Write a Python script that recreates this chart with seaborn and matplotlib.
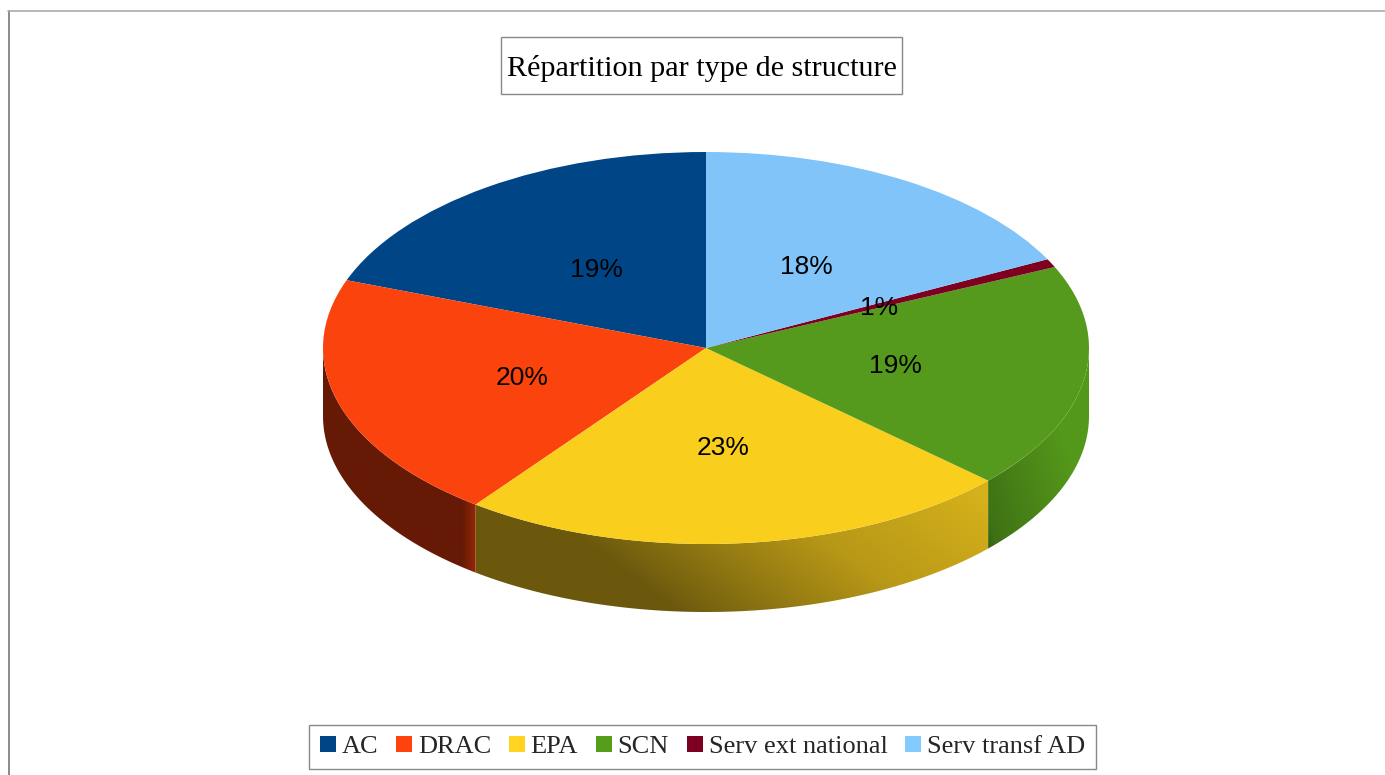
import numpy as np
import matplotlib
matplotlib.use("Agg")
import matplotlib.pyplot as plt
import matplotlib.colors as mcolors
from matplotlib.patches import Patch, Polygon, Rectangle
import seaborn as sns

# donnees
categories = ["AC", "DRAC", "EPA", "SCN", "Serv ext national", "Serv transf AD"]
valeurs = [19.38, 20.35, 23.45, 18.6, 0.7, 17.52]
titre = "Répartition par type de structure"

couleurs_legende = ["#004586", "#ff420e", "#ffd320", "#579d1c", "#7e0021", "#83caff"]
couleurs_pie = ["#004586", "#fb430d", "#f9ce1c", "#559a1c", "#7e0021", "#80c4fa"]

# ombrage du bord : (inclinaison, positions, facteurs)
ombres = {
    "DRAC": (0.0, [323, 462, 475], [0.40, 0.40, 0.58]),
    "EPA": (1.3, [450, 560, 600, 680, 800, 1020], [0.42, 0.42, 0.48, 0.58, 0.72, 0.84]),
    "SCN": (0.3, [975, 990, 1020, 1090], [0.55, 0.72, 0.80, 0.97]),
}

W, H = 1385, 775
cx, cy, rx, ry, prof = 706, 348, 383, 196, 68

sns.set_theme(style="white")
palette = sns.color_palette(couleurs_pie)

fig = plt.figure(figsize=(W / 100, H / 100), dpi=100)
bg = fig.add_axes([0, 0, 1, 1])
bg.set_axis_off()

# cadre exterieur
bg.plot([8.5, 8.5], [H, 11], color="#777777", lw=1.2)
bg.plot([8, W], [11, 11], color="#aaaaaa", lw=1.2)

# bord 3D
debut = 90 + np.cumsum([0] + valeurs[:-1]) * 360 / sum(valeurs)
fin = debut + np.array(valeurs) * 360 / sum(valeurs)
gx, gy = np.meshgrid(np.arange(300, 1101), np.arange(340, 621))
for nom, coul, a1, a2 in zip(categories, couleurs_legende, debut, fin):
    a1, a2 = max(a1, 180), min(a2, 360)
    if a2 <= a1 or nom not in ombres:
        continue
    tilt, pos, fact = ombres[nom]
    t = gx - tilt * (gy - 520)
    f = np.interp(t, pos, fact)[..., None]
    img = f * np.array(mcolors.to_rgb(coul))
    ang = np.radians(np.linspace(a1, a2, 200))
    haut = np.c_[cx + rx * np.cos(ang), cy - ry * np.sin(ang)]
    bas = haut[::-1] + [0, prof]
    poly = Polygon(np.r_[haut, bas], closed=True, transform=bg.transData,
                   fc="none", ec="none")
    bg.add_patch(poly)
    im = bg.imshow(img, extent=(300, 1100, 620, 340), aspect="auto",
                   interpolation="bilinear", zorder=2)
    im.set_clip_path(poly)

bg.set_xlim(0, W)
bg.set_ylim(H, 0)

# dessus du camembert : axe etire pour obtenir une ellipse
ech = rx / ry
ax = fig.add_axes([0, 0, 1, 1], zorder=3)
ax.patch.set_alpha(0)
wedges, textes, pcts = ax.pie(
    valeurs,
    colors=palette,
    startangle=90,
    center=(cx, (H - cy) * ech),
    radius=rx,
    autopct="%.0f%%",
    pctdistance=0.5,
    wedgeprops={"linewidth": 0},
    textprops={"family": "Liberation Sans", "fontsize": 19, "color": "black"},
)
for p in pcts:
    px, py = p.get_position()
    p.set_position((px, py - 2.5 * ech))
ax.set_aspect("auto")
ax.set_xlim(0, W)
ax.set_ylim(0, H * ech)

# titre
bg.add_patch(Rectangle((500.5, 36.5), 401.5, 57.5, fc="white", ec="#888888", lw=1, zorder=3))
bg.text(702, 68, titre, ha="center", va="center", family="Liberation Serif",
        fontsize=21.7, color="black", zorder=4)

# legende
handles = [Patch(fc=c, ec="none", label=n) for c, n in zip(couleurs_legende, categories)]
leg = fig.legend(
    handles=handles,
    loc="center",
    bbox_to_anchor=(702.5 / W, 1 - 747 / H),
    ncol=6,
    prop={"family": "Liberation Serif", "size": 19},
    frameon=True,
    fancybox=False,
    edgecolor="#888888",
    framealpha=1,
    handlelength=0.6,
    handleheight=0.6,
    handletextpad=0.22,
    columnspacing=0.68,
    borderpad=0.4,
    borderaxespad=0,
)
leg.get_frame().set_linewidth(1)

fig.savefig("out.png", dpi=100)
